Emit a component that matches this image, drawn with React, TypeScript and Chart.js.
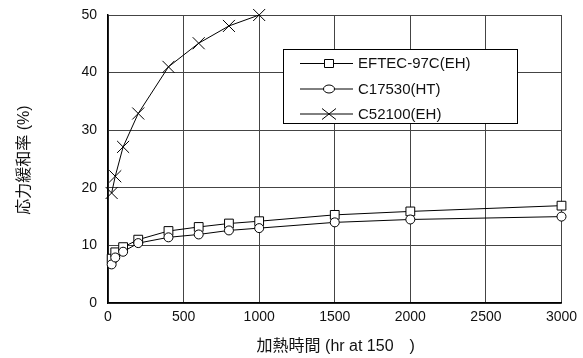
import React, { useEffect, useRef } from "react";
import { Chart, registerables } from "chart.js";

Chart.register(...registerables);

const hoursA = [24, 48, 100, 200, 400, 600, 800, 1000, 1500, 2000, 3000];
const eftec = [7.7, 8.8, 9.7, 11.0, 12.5, 13.2, 13.8, 14.2, 15.3, 15.9, 16.9];
const c17530 = [6.7, 7.9, 8.9, 10.4, 11.4, 11.9, 12.6, 13.0, 14.0, 14.5, 15.0];
const hoursB = [24, 48, 100, 200, 400, 600, 800, 1000];
const c52100 = [19.1, 22.0, 27.1, 32.9, 41.0, 45.1, 48.1, 50.0];

const seriesNames = ["EFTEC-97C(EH)", "C17530(HT)", "C52100(EH)"];
const xTitle = "加熱時間 (hr at 150　)";
const yTitle = "応力緩和率 (%)";

const FONT = "'Liberation Sans', Arial, 'Noto Sans CJK JP', sans-serif";

const toXY = (xs: number[], ys: number[]) => xs.map((x, i) => ({ x, y: ys[i] }));

const overlayPlugin = {
  id: "overlay",
  afterDraw(chart: any) {
    const ctx = chart.ctx as CanvasRenderingContext2D;
    const area = chart.chartArea;
    ctx.save();
    ctx.fillStyle = "#111";
    ctx.font = `16px ${FONT}`;
    ctx.textAlign = "center";
    ctx.textBaseline = "middle";
    ctx.fillText(xTitle, (area.left + area.right) / 2 + 1, 347);
    ctx.save();
    ctx.translate(25, (area.top + area.bottom) / 2 + 1);
    ctx.rotate(-Math.PI / 2);
    ctx.fillText(yTitle, 0, 0);
    ctx.restore();

    const bx = 283, by = 49, bw = 234, bh = 74;
    ctx.fillStyle = "#fff";
    ctx.fillRect(bx, by, bw, bh);
    ctx.strokeStyle = "#000";
    ctx.lineWidth = 1;
    ctx.strokeRect(bx + 0.5, by + 0.5, bw, bh);
    const rows = [63.5, 89, 114];
    ctx.font = `15px ${FONT}`;
    ctx.textAlign = "left";
    rows.forEach((ry, i) => {
      ctx.strokeStyle = "#000";
      ctx.lineWidth = 1;
      ctx.beginPath();
      ctx.moveTo(300, ry);
      ctx.lineTo(353, ry);
      ctx.stroke();
      const mx = 329;
      ctx.beginPath();
      if (i === 0) {
        ctx.fillStyle = "#fff";
        ctx.rect(mx - 4.5, ry - 4, 9, 8);
        ctx.fill();
        ctx.stroke();
      } else if (i === 1) {
        ctx.fillStyle = "#fff";
        ctx.ellipse(mx, ry, 5.5, 4, 0, 0, Math.PI * 2);
        ctx.fill();
        ctx.stroke();
      } else {
        ctx.moveTo(mx - 7, ry - 5.5);
        ctx.lineTo(mx + 7, ry + 5.5);
        ctx.moveTo(mx + 7, ry - 5.5);
        ctx.lineTo(mx - 7, ry + 5.5);
        ctx.stroke();
      }
      ctx.fillStyle = "#111";
      ctx.textBaseline = "middle";
      ctx.fillText(seriesNames[i], 358, ry + 0.5);
    });
    ctx.restore();
  },
};

export default function App() {
  const ref = useRef<HTMLCanvasElement | null>(null);
  useEffect(() => {
    if (!ref.current) return;
    const common = {
      borderColor: "#000",
      borderWidth: 1,
      pointBackgroundColor: "#fff",
      pointBorderColor: "#000",
      pointBorderWidth: 1,
      tension: 0,
      fill: false,
      clip: false as any,
    };
    const chart = new Chart(ref.current, {
      type: "line",
      data: {
        datasets: [
          { ...common, label: seriesNames[1], data: toXY(hoursA, c17530), pointStyle: "circle", pointRadius: 4.5 },
          { ...common, label: seriesNames[0], data: toXY(hoursA, eftec), pointStyle: "rect", pointRadius: 6.2 },
          { ...common, label: seriesNames[2], data: toXY(hoursB, c52100), pointStyle: "crossRot", pointRadius: 8.5 },
        ],
      },
      options: {
        responsive: false,
        animation: false,
        devicePixelRatio: 1,
        layout: { padding: { left: 0, right: 21.5, top: 15, bottom: 0 } },
        plugins: { legend: { display: false }, tooltip: { enabled: false } },
        scales: {
          x: {
            type: "linear",
            min: 0,
            max: 3000,
            afterFit: (s: any) => {
              s.height = 55;
              s.paddingLeft = 0;
              s.paddingRight = 0;
            },
            ticks: {
              stepSize: 500,
              padding: 6,
              color: "#111",
              font: { family: FONT, size: 14 },
              maxRotation: 0,
              callback: (v: any) => String(v),
            },
            grid: { color: "#444", lineWidth: 1, drawTicks: false },
            border: { color: "#000", width: 1.5 },
          },
          y: {
            type: "linear",
            min: 0,
            max: 50,
            afterFit: (s: any) => {
              s.width = 108;
              s.paddingTop = 0;
              s.paddingBottom = 0;
            },
            ticks: {
              stepSize: 10,
              padding: 11,
              color: "#111",
              font: { family: FONT, size: 14 },
              callback: (v: any) => String(v),
            },
            grid: { color: "#444", lineWidth: 1, drawTicks: false },
            border: { color: "#000", width: 1.5 },
          },
        },
      },
      plugins: [overlayPlugin],
    });
    return () => chart.destroy();
  }, []);
  return (
    <div style={{ position: "absolute", left: 0, top: 0, width: 583, height: 358, background: "#fff" }}>
      <canvas ref={ref} width={583} height={358} />
    </div>
  );
}
